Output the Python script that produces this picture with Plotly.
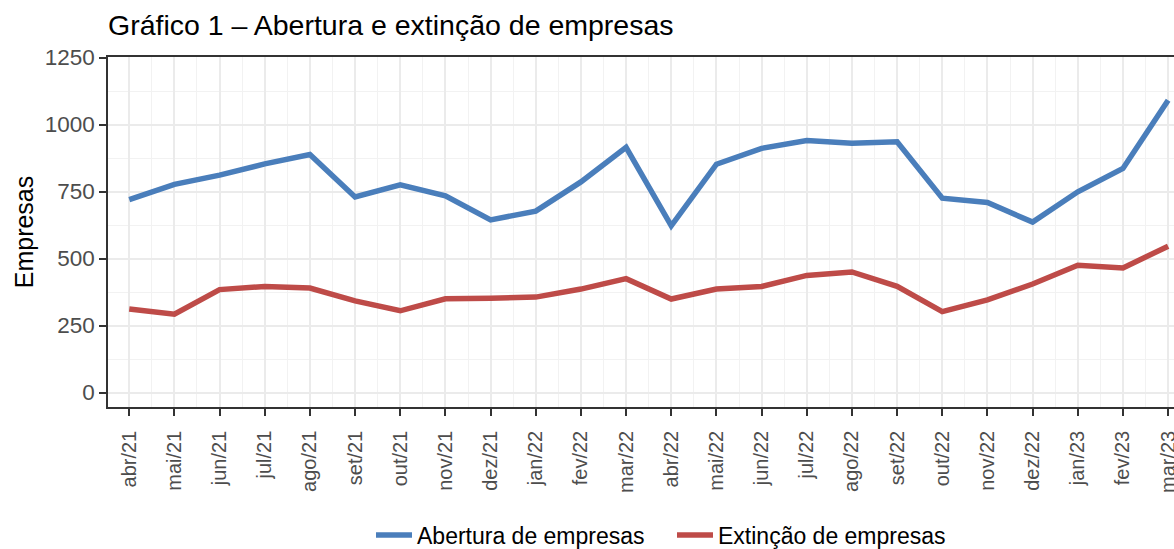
import plotly.graph_objects as go

meses = ["abr/21", "mai/21", "jun/21", "jul/21", "ago/21", "set/21", "out/21", "nov/21",
         "dez/21", "jan/22", "fev/22", "mar/22", "abr/22", "mai/22", "jun/22", "jul/22",
         "ago/22", "set/22", "out/22", "nov/22", "dez/22", "jan/23", "fev/23", "mar/23"]

abertura = [720, 777, 811, 853, 888, 730, 775, 734, 644, 677, 786, 915,
            622, 852, 911, 940, 930, 936, 725, 709, 636, 749, 836, 1091]

extincao = [312, 292, 384, 396, 390, 342, 305, 350, 352, 356, 386, 425,
            349, 386, 396, 437, 450, 396, 302, 346, 405, 475, 465, 546]

y_ticks = [0, 250, 500, 750, 1000, 1250]

FONT = "Liberation Sans, Arial, sans-serif"
x = list(range(len(meses)))

fig = go.Figure()
fig.add_trace(go.Scatter(x=x, y=abertura, mode="lines", name="Abertura de empresas",
                         line=dict(color="#4a7ebb", width=5.5)))
fig.add_trace(go.Scatter(x=x, y=extincao, mode="lines", name="Extinção de empresas",
                         line=dict(color="#be4b48", width=5.5)))

PLOT_L, PLOT_R, PLOT_T, PLOT_B = 108, 1174, 57, 407
plot_w = PLOT_R - PLOT_L
plot_h = PLOT_B - PLOT_T

fig.update_layout(
    width=1174, height=549,
    margin=dict(l=PLOT_L, r=1174 - PLOT_R, t=PLOT_T, b=549 - PLOT_B, autoexpand=False),
    plot_bgcolor="white", paper_bgcolor="white",
    font=dict(family=FONT, color="#000000"),
    title=dict(text="Gráfico 1 – Abertura e extinção de empresas",
               font=dict(size=28.5, color="#000000", family=FONT),
               xref="paper", x=0, xanchor="left",
               yref="container", y=1 - 25 / 549, yanchor="middle"),
    legend=dict(orientation="h", xref="container", x=371 / 1174, xanchor="left",
                yref="container", y=(549 - 535) / 549, yanchor="middle",
                font=dict(size=23, color="#000000", family=FONT),
                itemwidth=36, entrywidth=250, entrywidthmode="pixels", tracegroupgap=0),
    showlegend=True,
)

fig.update_xaxes(
    range=[-0.47, 23.13],
    tickmode="array", tickvals=x, ticktext=meses, tickangle=-90,
    tickfont=dict(size=20, color="#4d4d4d", family=FONT),
    ticks="outside", ticklen=7, tickwidth=1.5, tickcolor="#333333",
    ticklabelstandoff=7, ticklabeloverflow="allow",
    showline=True, linecolor="#333333", linewidth=1.5, mirror=True,
    showgrid=True, gridcolor="#ebebeb", gridwidth=1.6,
    minor=dict(dtick=0.5, tick0=0, showgrid=True, gridcolor="#f2f2f2", gridwidth=1, ticks=""),
    zeroline=False,
)
fig.update_yaxes(
    range=[-54, 1252],
    tickmode="array", tickvals=y_ticks,
    tickfont=dict(size=22.5, color="#4d4d4d", family=FONT),
    ticks="outside", ticklen=7, tickwidth=1.5, tickcolor="#333333",
    showline=True, linecolor="#333333", linewidth=1.5, mirror=False,
    showgrid=True, gridcolor="#ebebeb", gridwidth=1.6,
    minor=dict(dtick=125, tick0=0, showgrid=True, gridcolor="#f2f2f2", gridwidth=1, ticks=""),
    zeroline=False,
    title=dict(text="Empresas", font=dict(size=25, color="#000000", family=FONT), standoff=4),
)

fig.write_html("out.html", config={"displayModeBar": False},
               post_script="document.body.style.margin='0px';document.body.style.overflow='hidden';")
